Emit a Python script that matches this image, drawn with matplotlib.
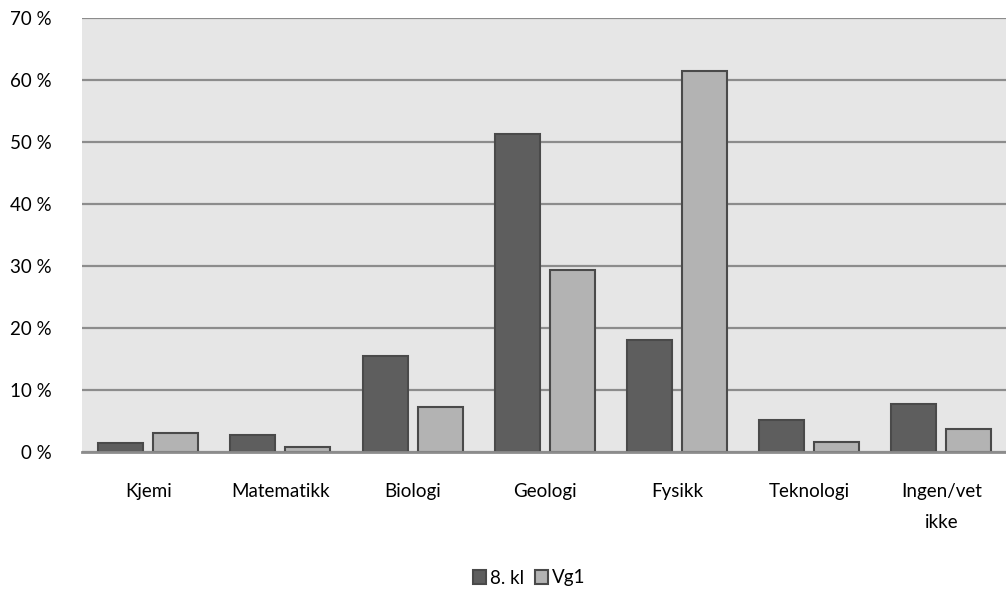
import matplotlib
matplotlib.use("Agg")
import matplotlib.pyplot as plt
import numpy as np

categories = ["Kjemi", "Matematikk", "Biologi", "Geologi", "Fysikk", "Teknologi", "Ingen/vet\nikke"]
kl8 = [1.4, 2.7, 15.5, 51.3, 18.0, 5.2, 7.8]
vg1 = [3.0, 0.8, 7.2, 29.3, 61.4, 1.6, 3.7]
yticks = [0, 10, 20, 30, 40, 50, 60, 70]
series_names = ["8. kl", "Vg1"]

plt.rcParams['font.family'] = ['Lato', 'DejaVu Sans']

W, H = 1006, 601
fig = plt.figure(figsize=(W/100, H/100), dpi=100)
left, right, top, bottom = 82.2, 82.2 + 7*132.2, 18, 452
ax = fig.add_axes([left/W, 1 - bottom/H, (right-left)/W, (bottom-top)/H])
ax.set_facecolor("#e6e6e6")

x = np.arange(len(categories))
bw = 45/132.2
off = 27.5/132.2
ax.bar(x - off, kl8, bw, color="#5e5e5e", edgecolor="#4a4a4a", linewidth=1.5, label=series_names[0], zorder=3)
ax.bar(x + off, vg1, bw, color="#b3b3b3", edgecolor="#4a4a4a", linewidth=1.5, label=series_names[1], zorder=3)

ax.set_xlim(-0.5, 6.5)
ax.set_ylim(0, 70)
ax.set_yticks(yticks)
ax.set_yticklabels([f"{v} %" for v in yticks], fontsize=13.5, color="#000000")
ax.set_xticks(x)
ax.set_xticklabels(categories, fontsize=13.5, color="#000000", linespacing=2.0)
ax.tick_params(axis='y', length=0, pad=22)
ax.tick_params(axis='x', length=0, pad=22)
ax.yaxis.grid(True, color="#8c8c8c", linewidth=1.6, zorder=1)
ax.set_axisbelow(True)
for s in ["top", "right", "left"]:
    ax.spines[s].set_visible(False)
ax.spines["bottom"].set_color("#8c8c8c")
ax.spines["bottom"].set_linewidth(2)
ax.spines["bottom"].set_zorder(4)

fig.legend(loc="center", bbox_to_anchor=(529/W, 1 - 578/H), ncol=2, frameon=False,
           fontsize=13.5, handlelength=0.7, handleheight=0.7, handletextpad=0.2,
           columnspacing=0.6)

fig.savefig("out.png", dpi=100, facecolor="white")
